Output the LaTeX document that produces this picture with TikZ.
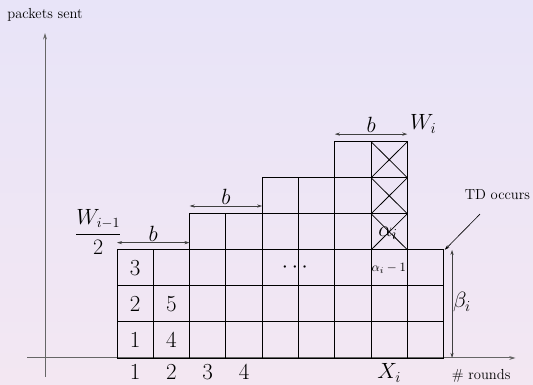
\documentclass[tikz,border=0pt]{standalone}
\usepackage{amsmath,amssymb}
\usepackage{xcolor}
\usepackage{tikz}
\usetikzlibrary{arrows.meta, positioning, calc}

\definecolor{bgtop}{RGB}{232,228,248}
\definecolor{bgbot}{RGB}{243,231,242}

\begin{document}
\begin{tikzpicture}[
  x=1cm, y=0.993cm,
  every node/.style={font=\fontsize{11.4}{13}\selectfont},
  big/.style={font=\fontsize{18}{20}\selectfont, inner sep=0pt},
  small/.style={font=\fontsize{10}{11}\selectfont, inner sep=0pt},
  cell/.style={black, line width=0.7pt},
  xout/.style={black, line width=0.6pt},
  ax/.style={-{Stealth[length=5pt,width=3pt]}, line width=0.8pt, black!60},
  span/.style={{Stealth[length=4pt,width=2.5pt]}-{Stealth[length=4pt,width=2.5pt]},
               line width=0.6pt, black!75}
]
%% background and frame
\shade[top color=bgtop, bottom color=bgbot] (-3.223,-0.749) rectangle (11.460,9.931);
\useasboundingbox (-3.223,-0.749) rectangle (11.460,9.931);

%% axes
\coordinate (yb) at (-1.983,-0.527);
\coordinate (yt) at (-1.983,9.015);
\coordinate (xl) at (-2.479,0);
\coordinate (xr) at (10.98,0);
\draw[ax] (yb) -- (yt);
\draw[ax] (xl) -- (xr);
\node[anchor=base] (ylab) at (-1.983,9.42) {packets sent};
\node[anchor=base] (xlab) at (10.03,-0.61) {\# rounds};

%% columns of packets (column/height)
\foreach \c/\h in {0/3, 1/3, 2/4, 3/4, 4/5, 5/5, 6/6, 7/6, 8/3}
  \foreach \r in {1,...,\h}
    \draw[cell] (\c,\r-1) rectangle (\c+1,\r);

%% crossed (lost) packets
\foreach \r in {3,4,5}
  \draw[xout] (7,\r) -- (8,\r+1) (7,\r+1) -- (8,\r);

%% packet numbers
\node[big] (p1) at (0.5,0.5) {1};
\node[big] (p2) at (0.5,1.5) {2};
\node[big] (p3) at (0.5,2.5) {3};
\node[big] (p4) at (1.5,0.5) {4};
\node[big] (p5) at (1.5,1.5) {5};

%% round numbers
\foreach \k in {1,...,4}
  \node[big, anchor=base] (r\k) at (\k-0.5,-0.6) {\k};
\node[big, anchor=base] (xi) at (7.5,-0.58) {$X_i$};

%% b spans
\coordinate (b1l) at (0,3.2);   \coordinate (b1r) at (2,3.2);
\coordinate (b2l) at (2,4.216); \coordinate (b2r) at (4,4.216);
\coordinate (b3l) at (6,6.21);  \coordinate (b3r) at (8,6.21);
\draw[span] (b1l) -- (b1r);
\draw[span] (b2l) -- (b2r);
\draw[span] (b3l) -- (b3r);
\node[big, anchor=base] (b1) at ($(b1l)!0.5!(b1r)+(0,0.04)$) {$b$};
\node[big, anchor=base] (b2) at ($(b2l)!0.5!(b2r)+(0,0.04)$) {$b$};
\node[big, anchor=base] (b3) at ($(b3l)!0.5!(b3r)+(0,0.04)$) {$b$};

%% window labels
\node[font=\fontsize{16}{18}\selectfont, inner sep=0pt] (wprev) at (-0.515,3.49)
  {$\dfrac{W_{i-1}}{2}$};
\node[big, anchor=base west] (wi) at (8.07,6.325) {$W_i$};

%% alpha labels
\node[big, anchor=base west] (al) at (7.19,3.365) {$\alpha_i$};
\node[small, anchor=base] (alm) at (7.49,2.39) {$\alpha_i-1$};
\node[big] (dots) at (4.95,2.5) {$\cdots$};

%% beta span
\coordinate (bt) at (9.23,3);
\coordinate (bb) at (9.23,0);
\draw[span] (bb) -- (bt);
\node[big, anchor=base west] (beta) at (9.25,1.39) {$\beta_i$};

%% triple duplicate
\node[anchor=base] (td) at (10.48,4.41) {TD occurs};
\coordinate (tds) at (10.0,3.99);
\coordinate (tdc) at (9.03,3.0);
\draw[-{Stealth[length=4pt,width=2.5pt]}, line width=0.5pt] (tds) -- (tdc);
\end{tikzpicture}
\end{document}
